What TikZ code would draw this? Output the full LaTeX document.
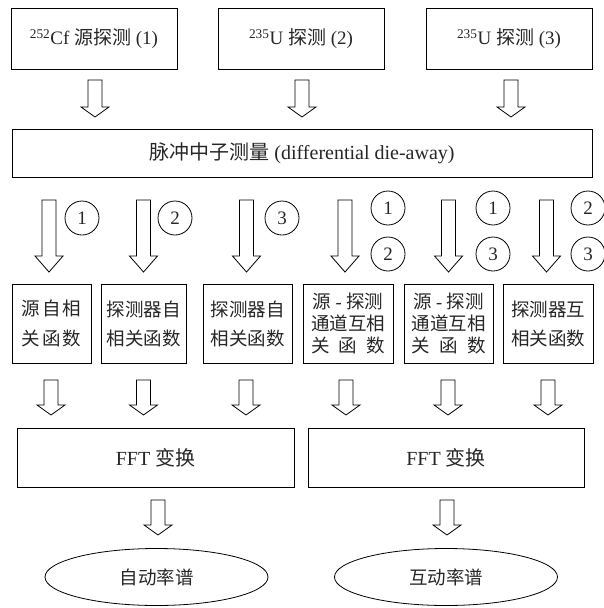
\documentclass[tikz,border=0pt]{standalone}
\usepackage{fontspec}
\usetikzlibrary{shapes.geometric}
\setmainfont{Liberation Serif}
\newfontfamily\cjk{Noto Sans CJK SC}
\newcommand\zh[1]{{\cjk #1}}
\newcommand\blockarrow[4]{% x, ytop, yhead, ytip
  \draw[arrowline] (#1-7,#2) -- (#1+7,#2) -- (#1+7,#3) -- (#1+14,#3) -- (#1,#4) -- (#1-14,#3) -- (#1-7,#3) -- cycle;}
\begin{document}
\begin{tikzpicture}[x=1pt,y=-1pt,
  box/.style={draw, line width=0.8pt, inner sep=0pt, align=center, text=black!85},
  topbox/.style={box, minimum width=166pt, minimum height=61pt, font=\fontsize{19}{22}\selectfont},
  midbox/.style={box, minimum height=79pt, font=\fontsize{18.5}{22}\selectfont},
  fftbox/.style={box, minimum height=59pt, font=\fontsize{20}{24}\selectfont},
  spec/.style={draw, line width=0.8pt, ellipse, inner sep=0pt, minimum width=223pt, minimum height=57pt, font=\fontsize{18.5}{22}\selectfont, text=black!85},
  num/.style={draw, line width=0.8pt, circle, inner sep=0pt, minimum size=34pt, font=\fontsize{19}{22}\selectfont, text=black!85},
  arrowline/.style={draw, line width=0.8pt, fill=white, line join=miter}
]
\useasboundingbox (0,0) rectangle (603,608);
% top boxes
\node[topbox] (t1) at (94,38.5) {\textsuperscript{252}Cf \zh{源探测} (1)};
\node[topbox] (t2) at (301,38.5) {\textsuperscript{235}U \zh{探测} (2)};
\node[topbox] (t3) at (509,38.5) {\textsuperscript{235}U \zh{探测} (3)};
% wide box
\node[topbox, minimum width=580pt, minimum height=48pt, font=\fontsize{20}{24}\selectfont] (w) at (302,153) {\zh{脉冲中子测量} (differential die-away)};
% arrows row A
\blockarrow{95}{80}{107}{117}
\blockarrow{302}{80}{107}{117}
\blockarrow{511}{80}{107}{117}
% arrows row B
\blockarrow{49}{200}{256}{272}
\blockarrow{143.5}{200}{256}{272}
\blockarrow{246.5}{200}{256}{272}
\blockarrow{345}{200}{256}{272}
\blockarrow{448.5}{200}{256}{272}
\blockarrow{546.5}{200}{256}{272}
% number circles
\node[num] (c1) at (82,218) {1};
\node[num] (c2) at (175,218) {2};
\node[num] (c3) at (282,218) {3};
\node[num] (c4a) at (388,208) {1};
\node[num] (c4b) at (388,254) {2};
\node[num] (c5a) at (493,208) {1};
\node[num] (c5b) at (493,254) {3};
\node[num] (c6a) at (588,208) {2};
\node[num] (c6b) at (588,254) {3};
% middle boxes
\node[midbox, minimum width=79pt] (m1) at (51.5,323.5) {\zh{源\hspace{2pt}自\hspace{2pt}相}\\[8pt]\zh{关\hspace{2pt}函\hspace{2pt}数}};
\node[midbox, minimum width=85pt] (m2) at (143.5,323.5) {\zh{探测器自}\\[7pt]\zh{相关函数}};
\node[midbox, minimum width=89pt] (m3) at (247.5,323.5) {\zh{探测器自}\\[7pt]\zh{相关函数}};
\node[midbox, minimum width=90pt] (m4) at (348,323.5) {\zh{源} - \zh{探测}\\\zh{通道互相}\\\makebox[74pt][s]{\zh{关}\hfill\zh{函}\hfill\zh{数}}};
\node[midbox, minimum width=89pt] (m5) at (448.5,323.5) {\zh{源} - \zh{探测}\\\zh{通道互相}\\\makebox[74pt][s]{\zh{关}\hfill\zh{函}\hfill\zh{数}}};
\node[midbox, minimum width=90pt] (m6) at (548,323.5) {\zh{探测器互}\\[7pt]\zh{相关函数}};
% arrows row C
\blockarrow{51}{380}{405}{415}
\blockarrow{143.5}{380}{405}{415}
\blockarrow{246}{380}{405}{415}
\blockarrow{346}{380}{405}{415}
\blockarrow{448}{380}{405}{415}
\blockarrow{548}{380}{405}{415}
% FFT boxes
\node[fftbox, minimum width=277pt] (f1) at (155.5,457.5) {FFT \zh{变换}};
\node[fftbox, minimum width=276pt] (f2) at (446,457.5) {FFT \zh{变换}};
% arrows row D
\blockarrow{158}{500}{525}{535}
\blockarrow{447}{500}{525}{535}
% ellipses
\node[spec] (e1) at (156.5,577) {\zh{自动率谱}};
\node[spec] (e2) at (446,577) {\zh{互动率谱}};
\end{tikzpicture}
\end{document}
